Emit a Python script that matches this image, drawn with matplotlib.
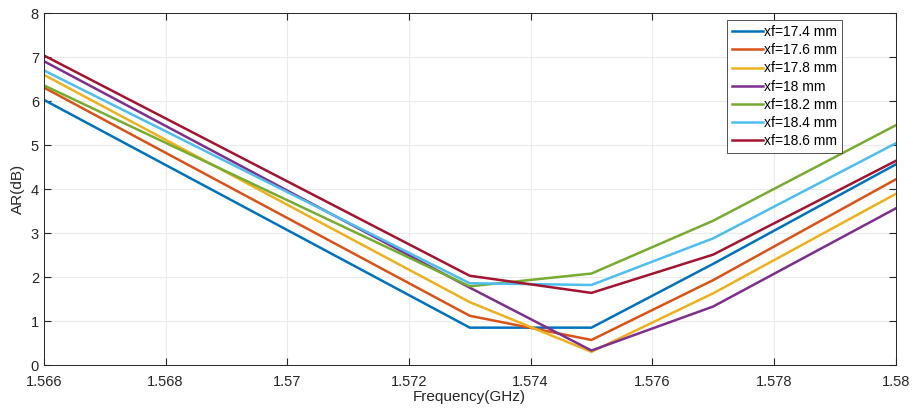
import matplotlib.pyplot as plt

plt.rcParams['font.family'] = ['Liberation Sans', 'DejaVu Sans']

freq = [1.566, 1.573, 1.575, 1.577, 1.580]
labels = ['xf=17.4 mm', 'xf=17.6 mm', 'xf=17.8 mm', 'xf=18 mm',
          'xf=18.2 mm', 'xf=18.4 mm', 'xf=18.6 mm']

ar_174 = [6.03, 0.85, 0.85, 2.30, 4.56]
ar_176 = [6.31, 1.12, 0.57, 1.93, 4.22]
ar_178 = [6.60, 1.43, 0.30, 1.63, 3.89]
ar_180 = [6.91, 1.76, 0.33, 1.33, 3.56]
ar_182 = [6.36, 1.79, 2.08, 3.28, 5.45]
ar_184 = [6.70, 1.86, 1.82, 2.88, 5.04]
ar_186 = [7.04, 2.03, 1.64, 2.51, 4.64]

series = [ar_174, ar_176, ar_178, ar_180, ar_182, ar_184, ar_186]
colors = ['#0072BD', '#D95319', '#EDB120', '#7E2F8E',
          '#77AC30', '#4DBEEE', '#A2142F']

fig = plt.figure(figsize=(9.13, 4.12), dpi=100)
ax = fig.add_axes([0.048, 0.114, 0.933, 0.854])

for ys, c, lab in zip(series, colors, labels):
    ax.plot(freq, ys, color=c, lw=1.8, label=lab)

ax.set_xlim(1.566, 1.58)
ax.set_ylim(0, 8)
ax.set_xticks([1.566, 1.568, 1.57, 1.572, 1.574, 1.576, 1.578, 1.58])
ax.set_xticklabels(['1.566', '1.568', '1.57', '1.572', '1.574', '1.576', '1.578', '1.58'])
ax.set_yticks(range(0, 9))
ax.grid(True, color='#ebebeb', lw=0.8)
ax.set_axisbelow(True)
ax.tick_params(direction='in', top=True, right=True, labelsize=10.5,
               color='#262626', labelcolor='#262626', length=5)
ax.tick_params(axis='x', pad=7)
for s in ax.spines.values():
    s.set_color('#262626')
    s.set_linewidth(0.7)

ax.set_xlabel('Frequency(GHz)', fontsize=11, color='#262626', labelpad=1)
ax.set_ylabel('AR(dB)', fontsize=11, color='#262626', labelpad=4)

leg = ax.legend(loc='upper right', bbox_to_anchor=(0.937, 0.98), fontsize=10,
                frameon=True, fancybox=False, borderpad=0.35, labelspacing=0.3,
                handlelength=2.2, handletextpad=0.1, borderaxespad=0)
leg.get_frame().set_edgecolor('#262626')
leg.get_frame().set_linewidth(0.7)

fig.savefig('out.png', dpi=100)
